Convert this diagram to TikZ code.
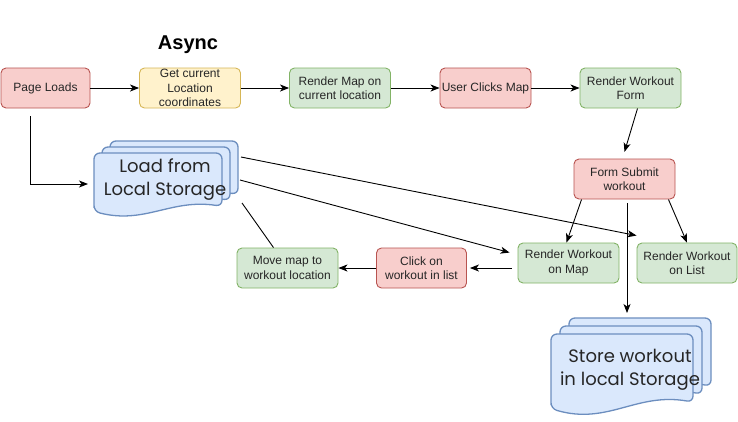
\documentclass[tikz,border=0pt]{standalone}
\usepackage{fontspec}
\setmainfont{Liberation Sans}
\newfontfamily\sketchfont{Poppins}
\usetikzlibrary{arrows.meta}
\definecolor{redfill}{HTML}{F8CECC}
\definecolor{redline}{HTML}{B85450}
\definecolor{yellowfill}{HTML}{FFF2CC}
\definecolor{yellowline}{HTML}{D6B656}
\definecolor{greenfill}{HTML}{D5E8D4}
\definecolor{greenline}{HTML}{82B366}
\definecolor{bluefill}{HTML}{DAE8FC}
\definecolor{blueline}{HTML}{6C8EBF}
\tikzset{>={Stealth[length=9pt,width=7pt,inset=2.5pt]}}
% one sheet of a document stack: x, y, width, height
\newcommand{\docpage}[4]{%
  \filldraw[fill=bluefill, draw=blueline, line width=1.3pt, rounded corners=6pt]
    (#1,{#2+0.9*#4}) -- (#1,#2) -- ({#1+#3},#2) -- ({#1+#3},{#2+0.82*#4})
    .. controls ({#1+0.6*#3},{#2+0.7*#4}) and ({#1+0.4*#3},{#2+1.1*#4}) .. cycle;
}
\begin{document}
\begin{tikzpicture}[x=1pt, y=-1pt, line width=0.9pt,
  box/.style={draw, rounded corners=5pt, minimum width=101pt, minimum height=40pt,
    align=center, inner sep=1pt, text=black!85, font=\fontsize{12}{14.5}\selectfont},
  redbox/.style={box, fill=redfill, draw=redline},
  yellowbox/.style={box, fill=yellowfill, draw=yellowline},
  greenbox/.style={box, fill=greenfill, draw=greenline},
  doctext/.style={align=center, text=black!85, font=\sketchfont\fontsize{18}{23}\selectfont}]

  \useasboundingbox[fill=white] (0,0) rectangle (738,421);

  % Title
  \node[font=\bfseries\fontsize{20}{24}\selectfont] (title) at (188,45) {Async};

  % Top row
  \node[redbox, minimum width=89pt] (pl) at (45.5,88) {Page Loads};
  \node[yellowbox] (loc) at (190,88) {Get current\\Location\\coordinates};
  \node[greenbox] (map) at (340,88) {Render Map on\\current location};
  \node[redbox, minimum width=91pt] (uc) at (485.5,88) {User Clicks Map};
  \node[greenbox] (form) at (630.5,88) {Render Workout\\Form};

  % Workout flow
  \node[redbox] (submit) at (624.5,179) {Form Submit\\workout};
  \node[greenbox] (rmap) at (568.5,263) {Render Workout\\on Map};
  \node[greenbox, minimum width=100pt] (rlist) at (687,263) {Render Workout\\on List};
  \node[redbox, minimum width=90pt] (wclick) at (421.5,268) {Click on\\workout in list};
  \node[greenbox] (move) at (287.5,268) {Move map to\\workout location};

  % Document stacks
  \foreach \dx/\dy in {16/-12, 8/-6, 0/0} {
    \docpage{94+\dx}{153+\dy}{128}{65}
  }
  \foreach \dx/\dy in {18/-16, 9/-8, 0/0} {
    \docpage{551+\dx}{334+\dy}{142}{83}
  }
  \node[doctext] (ldoc) at (165,179.5) {Load from\\Local Storage};
  \node[doctext] (sdoc) at (630,370) {Store workout\\in local Storage};

  % Stack edge points
  \coordinate (lin) at (88,184);
  \coordinate (lout1) at (241,157);
  \coordinate (lout2) at (240,180);
  \coordinate (lout3) at (242,203);
  \coordinate (sin) at (627,318);

  % Top row arrows
  \foreach \a/\b in {pl/loc, map/uc, loc/map, uc/form} {
    \draw[->] (\a) -- (\b);
  }

  % Other arrows
  \draw[->, shorten <=8pt] ([xshift=-15pt]pl.south) |- (lin);
  \draw[->, shorten >=7pt] ([xshift=7pt]form.south) -- ([xshift=-2pt]submit.north);
  \draw[->] ([xshift=8pt]submit.south west) -- ([xshift=-2pt]rmap.north);
  \draw[->] ([xshift=-7pt]submit.south east) -- (rlist.north);
  \draw[->, shorten <=4pt, shorten >=5pt] ([xshift=2.5pt]submit.south) -- (sin);
  \draw[->] (lout1) -- ([yshift=7pt]rlist.north west);
  \draw[->] (lout2) -- ([shift={(-8pt,-10pt)}]rmap.north west);
  \draw (lout3) -- ([xshift=-14pt]move.north);
  \draw[->, shorten <=6pt, shorten >=3pt] (rmap.west |- wclick) -- (wclick.east);
  \draw[->] (wclick) -- (move);

\end{tikzpicture}
\end{document}
